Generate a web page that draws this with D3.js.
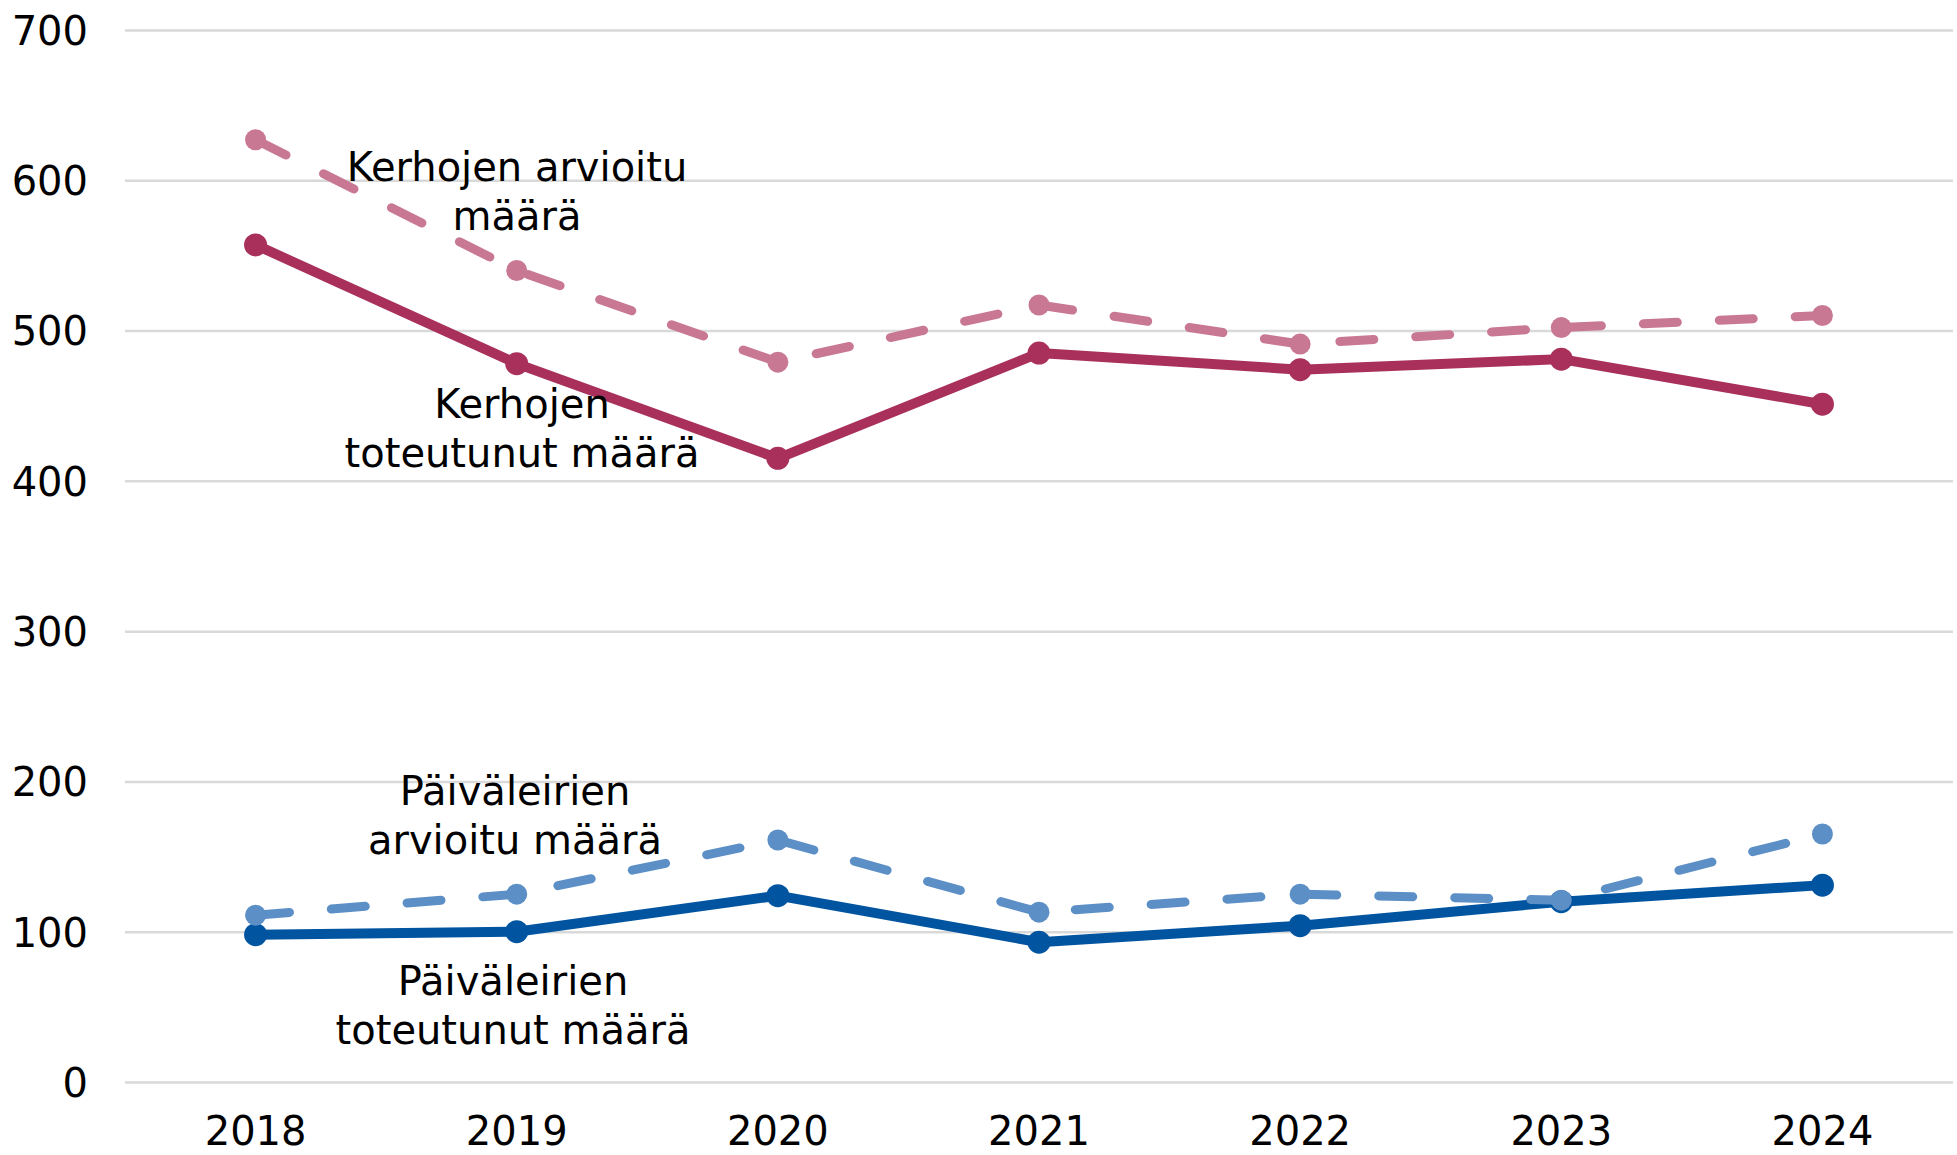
<!DOCTYPE html>
<html>
<head>
<meta charset="utf-8">
<script src="https://cdn.jsdelivr.net/npm/d3@7"></script>
<style>
  html, body { margin: 0; padding: 0; background: #fff; }
  svg text { font-family: "DejaVu Sans", Verdana, sans-serif; fill: #000; }
</style>
</head>
<body>
<div id="chart"></div>
<script>
window.onload = function() {

  // data
  var years = ['2018', '2019', '2020', '2021', '2022', '2023', '2024'];
  var kerhotToteutunut = [557, 478, 415, 485, 474, 481, 451];
  var kerhotArvioitu = [627, 540, 479, 517, 491, 502, 510];
  var leiritToteutunut = [98, 100, 124, 93, 104, 120, 131];
  var leiritArvioitu = [111, 125, 161, 113, 125, 121, 165];
  var yTicks = [0, 100, 200, 300, 400, 500, 600, 700];

  var width = 1957,
    height = 1155;

  var svg = d3.select('#chart').append('svg')
    .attr('width', width)
    .attr('height', height);

  var x = d3.scaleBand().domain(years).range([125, 1953]);
  var y = d3.scaleLinear().domain([0, 700]).range([1082, 30]);

  // gridlines + y labels
  var yAxis = d3.axisLeft(y).tickValues(yTicks).tickSize(-(1953 - 125)).tickPadding(37);
  var gy = svg.append('g').attr('transform', 'translate(125,0)').call(yAxis);
  gy.select('.domain').remove();
  gy.selectAll('line').attr('stroke', '#d9d9d9').attr('stroke-width', 2.5);
  gy.selectAll('text').attr('font-size', 40).attr('dy', '0.36em').attr('fill', '#000');

  var xAxis = d3.axisBottom(x).tickSize(0).tickPadding(0);
  var gx = svg.append('g').attr('transform', 'translate(0,1082)').call(xAxis);
  gx.select('.domain').remove();
  gx.selectAll('text').attr('font-size', 40).attr('dy', null).attr('y', 63).attr('fill', '#000');

  var series = [
    { values: kerhotToteutunut, color: '#a8305a', dash: null, width: 10, r: 11.5 },
    { values: kerhotArvioitu, color: '#c97893', dash: '34,42', width: 9, r: 10.5 },
    { values: leiritToteutunut, color: '#0054a0', dash: null, width: 10, r: 11.5 },
    { values: leiritArvioitu, color: '#5b8fc6', dash: '34,42', width: 9, r: 10.5 }
  ];

  var line = d3.line()
    .x(function(d, i) { return x(years[i]) + x.bandwidth() / 2; })
    .y(function(d) { return y(d); });

  series.forEach(function(s) {
    var g = svg.append('g');
    g.append('path')
      .attr('d', line(s.values))
      .attr('fill', 'none')
      .attr('stroke', s.color)
      .attr('stroke-width', s.width)
      .attr('stroke-linecap', 'round')
      .attr('stroke-linejoin', 'round')
      .attr('stroke-dasharray', s.dash);
    g.selectAll('circle').data(s.values).enter().append('circle')
      .attr('cx', function(d, i) { return x(years[i]) + x.bandwidth() / 2; })
      .attr('cy', function(d) { return y(d); })
      .attr('r', s.r)
      .attr('fill', s.color);
  });

  // series labels
  var labels = [
    { lines: ['Kerhojen arvioitu', 'määrä'], x: 517, y: 181 },
    { lines: ['Kerhojen', 'toteutunut määrä'], x: 522, y: 418 },
    { lines: ['Päiväleirien', 'arvioitu määrä'], x: 515, y: 805 },
    { lines: ['Päiväleirien', 'toteutunut määrä'], x: 513, y: 995 }
  ];

  labels.forEach(function(l) {
    var t = svg.append('text')
      .attr('x', l.x)
      .attr('y', l.y)
      .attr('font-size', 40)
      .attr('text-anchor', 'middle');
    l.lines.forEach(function(str, i) {
      t.append('tspan').attr('x', l.x).attr('dy', i === 0 ? 0 : 49).text(str);
    });
  });

}
</script>
</body>
</html>
